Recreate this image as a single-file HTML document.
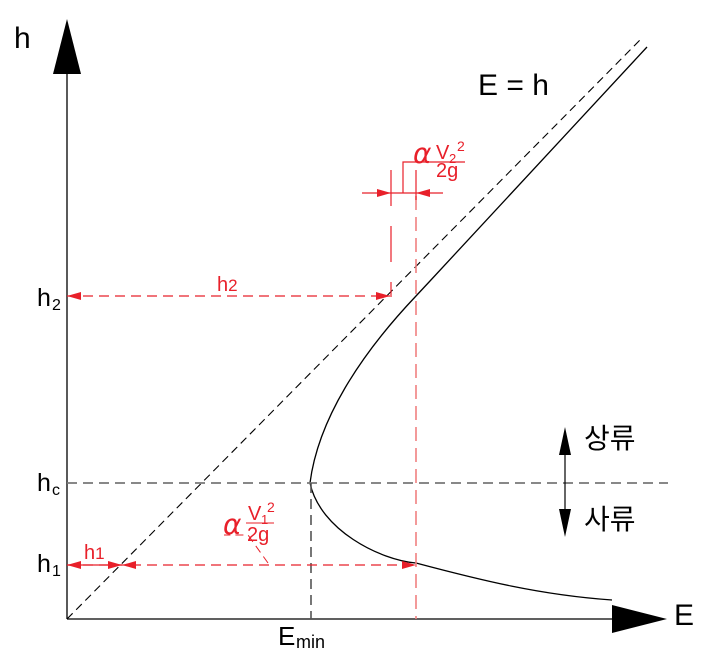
<!DOCTYPE html>
<html><head><style>body{margin:0;background:#fff}svg{display:block}</style></head><body>
<svg width="711" height="661" viewBox="0 0 711 661" xmlns="http://www.w3.org/2000/svg" font-family="Liberation Sans, sans-serif">
<line x1="67" y1="619" x2="67" y2="70" stroke="#000" stroke-width="1.3"/>
<polygon points="67,19 53,74 81,74" fill="#000"/>
<line x1="67" y1="619" x2="615" y2="619" stroke="#000" stroke-width="1.3"/>
<polygon points="667,619 612,605 612,633" fill="#000"/>
<text x="14" y="48" font-size="30">h</text>
<text x="674" y="625" font-size="30">E</text>
<text x="478" y="95" font-size="30">E = h</text>
<line x1="67" y1="619" x2="640" y2="40" stroke="#000" stroke-width="1.1" stroke-dasharray="8,5"/>
<path d="M647,47 L430,281 L416,296 C360,355 318,420 310,483 C320,530 380,560 416,563 C480,580 540,595 612,600" fill="none" stroke="#000" stroke-width="1.3"/>
<line x1="67" y1="483" x2="668" y2="483" stroke="#777" stroke-width="1.8" stroke-dasharray="10,6"/>
<line x1="311" y1="483" x2="311" y2="619" stroke="#555" stroke-width="1.6" stroke-dasharray="10,6"/>
<g stroke="#e8202a" fill="#e8202a">
<line x1="416" y1="196" x2="416" y2="619" stroke="#f08080" stroke-width="1.6" stroke-dasharray="14,7" />
<line x1="391" y1="170" x2="391" y2="297" stroke-width="1.2" stroke-dasharray="36,20"/>
<line x1="416" y1="170" x2="416" y2="200" stroke-width="1.2"/>
<line x1="362" y1="193" x2="443" y2="193" stroke-width="1.2"/>
<polygon points="391,193 377,189 377,197" stroke="none"/>
<polygon points="416,193 430,189 430,197" stroke="none"/>
<polyline points="403,193 403,162 465,162" fill="none" stroke-width="1.2"/>
<line x1="67" y1="296" x2="390" y2="296" stroke-width="1.2" stroke-dasharray="10,6"/>
<polygon points="67,296 81,292 81,300" stroke="none"/>
<polygon points="390,296 376,292 376,300" stroke="none"/>
<line x1="67" y1="565" x2="416" y2="565" stroke-width="1.2" stroke-dasharray="10,6"/>
<line x1="67" y1="565" x2="122" y2="565" stroke-width="1.2"/>
<polygon points="67,565 81,561 81,569" stroke="none"/>
<polygon points="122,565 108,561 108,569" stroke="none"/>
<polygon points="122,565 136,561 136,569" stroke="none"/>
<polygon points="416,565 402,561 402,569" stroke="none"/>
<polyline points="268,563 248,535 224,535" fill="none" stroke-width="1" stroke-dasharray="8,5"/>
<line x1="246" y1="523" x2="274" y2="523" stroke-width="1"/>
</g>
<g fill="#e8202a">
<text x="217" y="291" font-size="20">h<tspan font-size="17">2</tspan></text>
<text x="84" y="559" font-size="20">h<tspan font-size="17">1</tspan></text>
<text x="413" y="163" font-size="28" font-style="italic" font-family="DejaVu Sans, sans-serif">α</text>
<text x="436" y="159" font-size="20">V</text><text x="449" y="163" font-size="13">2</text><text x="457" y="151" font-size="14">2</text>
<text x="436" y="177" font-size="20">2g</text>
<text x="223" y="534" font-size="28" font-style="italic" font-family="DejaVu Sans, sans-serif">α</text>
<text x="248" y="520" font-size="20">V</text><text x="261" y="524" font-size="13">1</text><text x="267" y="512" font-size="14">2</text>
<text x="247" y="541" font-size="20">2g</text>
</g>
<text x="37" y="306" font-size="25">h</text><text x="52" y="310" font-size="16">2</text>
<text x="37" y="491" font-size="25">h</text><text x="52" y="495" font-size="16">c</text>
<text x="37" y="572" font-size="25">h</text><text x="52" y="576" font-size="16">1</text>
<text x="278" y="645" font-size="26">E</text><text x="296" y="648" font-size="18">min</text>
<line x1="565" y1="440" x2="565" y2="520" stroke="#000" stroke-width="1.2"/>
<polygon points="565,427 559,455 571,455" fill="#000"/>
<polygon points="565,537 559,509 571,509" fill="#000"/>
<text x="584" y="448" font-size="28" font-family="Liberation Sans, Noto Sans CJK KR, sans-serif">상류</text>
<text x="584" y="529" font-size="28" font-family="Liberation Sans, Noto Sans CJK KR, sans-serif">사류</text>
</svg>
</body></html>
